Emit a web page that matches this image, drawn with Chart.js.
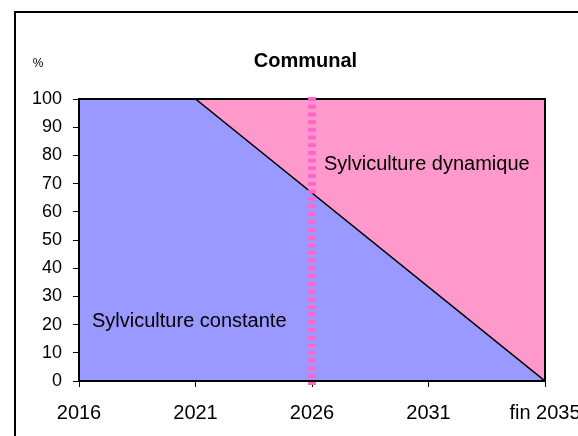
<!DOCTYPE html>
<html>
<head>
<meta charset="utf-8">
<script src="https://cdn.jsdelivr.net/npm/chart.js@4"></script>
<style>
  html, body { margin: 0; padding: 0; background: #fff; overflow: hidden; width: 578px; height: 436px; }
  #frame { position: absolute; left: 14px; top: 11px; width: 700px; height: 600px; border: 2px solid #000; }
  #c { position: absolute; left: 0; top: 0; }
</style>
</head>
<body>
<div id="frame"></div>
<canvas id="c" width="578" height="436"></canvas>
<script>
// ---- data ----
const years = [2016, 2021, 2036];            // 2036 = "fin 2035"
const constante = [100, 100, 0];             // Sylviculture constante (%)
const dynamique = [0, 0, 100];               // Sylviculture dynamique (%), stacked on top
const xTickValues = [2016, 2021, 2026, 2031, 2036];
const xTickLabels = ['2016', '2021', '2026', '2031', 'fin 2035'];
const yTicks = [0, 10, 20, 30, 40, 50, 60, 70, 80, 90, 100];
const markerYear = 2026;
const title = 'Communal';
const yUnit = '%';
const labelDyn = 'Sylviculture dynamique';
const labelConst = 'Sylviculture constante';

const FONT = '"Liberation Sans", Arial, sans-serif';

const pts = (vals) => years.map((x, i) => ({ x: x, y: vals[i] }));

const decor = {
  id: 'decor',
  afterDatasetsDraw(chart) {
    const ctx = chart.ctx, a = chart.chartArea;
    const xs = chart.scales.x;
    ctx.save();
    // plot frame
    ctx.strokeStyle = '#000';
    ctx.lineWidth = 2;
    ctx.strokeRect(a.left, a.top, a.right - a.left, a.bottom - a.top);
    // dashed marker line
    const mx = Math.round(xs.getPixelForValue(markerYear));
    ctx.strokeStyle = '#FF66CC';
    ctx.lineWidth = 8;
    ctx.setLineDash([4, 3.7]);
    ctx.beginPath();
    ctx.moveTo(mx, a.top - 2);
    ctx.lineTo(mx, a.bottom + 4);
    ctx.stroke();
    ctx.setLineDash([]);
    // in-plot labels
    ctx.fillStyle = '#000';
    ctx.font = '20px ' + FONT;
    ctx.textAlign = 'left';
    ctx.textBaseline = 'alphabetic';
    ctx.fillText(labelDyn, 324, 170);
    ctx.fillText(labelConst, 92, 327);
    // title
    ctx.font = 'bold 20px ' + FONT;
    ctx.textAlign = 'center';
    ctx.textBaseline = 'alphabetic';
    ctx.fillText(title, 305.5, 67);
    // unit
    ctx.font = '12px ' + FONT;
    ctx.fillText(yUnit, 38, 67);
    ctx.restore();
  }
};

new Chart(document.getElementById('c'), {
  type: 'line',
  data: {
    datasets: [
      {
        label: labelConst,
        data: pts(constante),
        fill: 'origin',
        backgroundColor: '#9999FF',
        borderColor: '#000',
        borderWidth: 1.5,
        pointRadius: 0,
        tension: 0
      },
      {
        label: labelDyn,
        data: pts(dynamique),
        fill: '-1',
        backgroundColor: '#FF99CC',
        borderColor: 'rgba(0,0,0,0)',
        borderWidth: 0,
        pointRadius: 0,
        tension: 0
      }
    ]
  },
  options: {
    responsive: false,
    animation: false,
    devicePixelRatio: 1,
    layout: { padding: { left: 0, right: 33, top: 99, bottom: 0 } },
    plugins: { legend: { display: false }, tooltip: { enabled: false }, title: { display: false } },
    scales: {
      x: {
        type: 'linear',
        min: 2016, max: 2036,
        afterBuildTicks(s) { s.ticks = xTickValues.map(v => ({ value: v })); },
        afterFit(s) { s.height = 55; s.paddingLeft = 0; s.paddingRight = 0; },
        ticks: {
          autoSkip: false, maxRotation: 0, color: '#000', padding: 14,
          font: { family: FONT, size: 20 },
          callback(v) { const i = xTickValues.indexOf(v); return i >= 0 ? xTickLabels[i] : ''; }
        },
        grid: { drawOnChartArea: false, color: '#000', tickLength: 6, lineWidth: 1 },
        border: { display: false }
      },
      y: {
        stacked: true,
        min: 0, max: 100,
        afterBuildTicks(s) { s.ticks = yTicks.map(v => ({ value: v })); },
        afterFit(s) { s.width = 79; s.paddingTop = 0; s.paddingBottom = 0; },
        ticks: { color: '#000', padding: 11, font: { family: FONT, size: 18 } },
        grid: { drawOnChartArea: false, color: '#000', tickLength: 6, lineWidth: 1 },
        border: { display: false }
      }
    }
  },
  plugins: [decor]
});
</script>
</body>
</html>
